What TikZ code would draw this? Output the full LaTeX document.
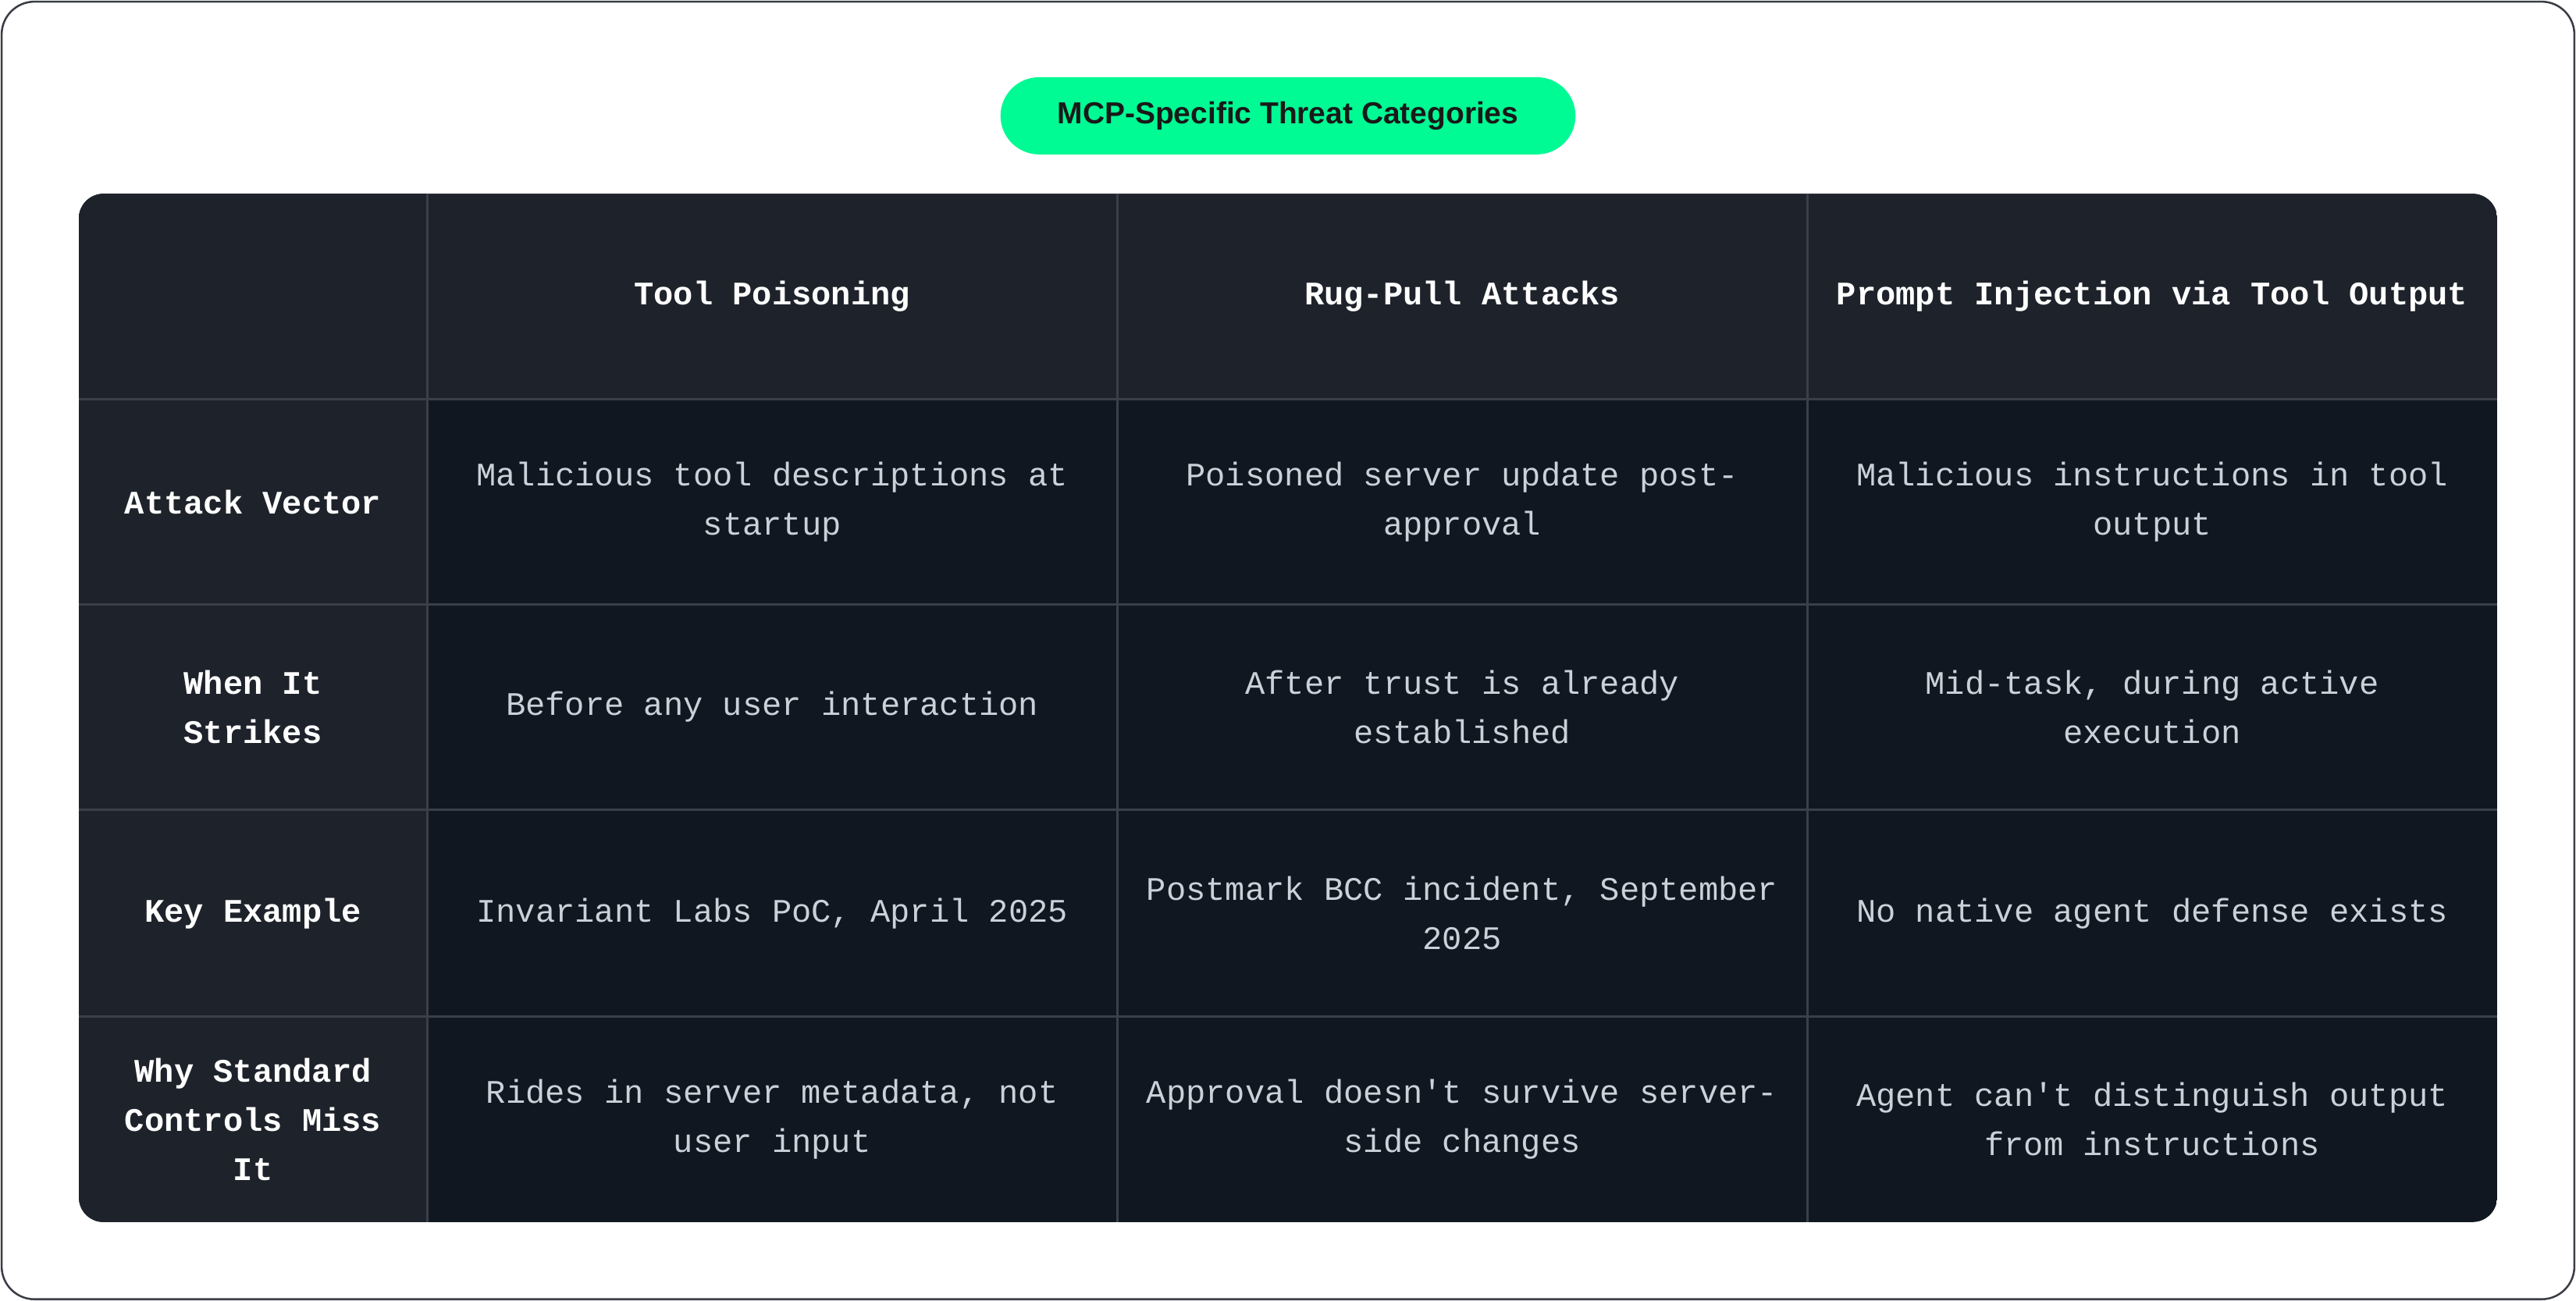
\documentclass[tikz,border=0pt]{standalone}
\usepackage{fontspec}
\setmainfont{Liberation Sans}
\setmonofont{Liberation Mono}
\definecolor{hdr}{HTML}{1E232B}
\definecolor{body}{HTML}{111720}
\definecolor{grid}{HTML}{3A4049}
\definecolor{txt}{HTML}{C9D1D9}
\definecolor{pill}{HTML}{00FA94}
\definecolor{frame}{HTML}{3A3D44}
\begin{document}
\begin{tikzpicture}[x=1pt,y=-1pt,
  hd/.style={font=\ttfamily\bfseries\fontsize{20}{30}\selectfont,text=white,align=center},
  bd/.style={font=\ttfamily\fontsize{20}{30}\selectfont,text=txt,align=center}]
\useasboundingbox (0,0) rectangle (1568,792);
\draw[frame,line width=1.2pt,rounded corners=20pt] (1,1) rectangle (1567,791);
\node[fill=pill,rounded corners=23.5pt,minimum width=350pt,minimum height=47pt,font=\bfseries\fontsize{18.5}{22}\selectfont,text=black!90] (title) at (784,70.5) {MCP-Specific Threat Categories};
\begin{scope}
\clip[rounded corners=15pt] (48,118) rectangle (1520,744);
\fill[body] (48,118) rectangle (1520,744);
\fill[hdr] (48,118) rectangle (1520,243);
\fill[hdr] (48,118) rectangle (260,744);
\foreach \x in {260,680,1100} \draw[grid,line width=1.5pt] (\x,118) -- (\x,744);
\foreach \y in {243,368,493,619} \draw[grid,line width=1.5pt] (48,\y) -- (1520,\y);
\end{scope}
\node[hd] (h1) at (470,180.5) {Tool Poisoning};
\node[hd] (h2) at (890,180.5) {Rug-Pull Attacks};
\node[hd] (h3) at (1310,180.5) {Prompt Injection via Tool Output};
\node[hd] (r1) at (154,305.5) {Attack Vector};
\node[hd] (r2) at (154,430.5) {When It\\Strikes};
\node[hd] (r3) at (154,556) {Key Example};
\node[hd] (r4) at (154,681.5) {Why Standard\\Controls Miss\\It};
\node[bd] (c11) at (470,305.5) {Malicious tool descriptions at\\startup};
\node[bd] (c12) at (890,305.5) {Poisoned server update post-\\approval};
\node[bd] (c13) at (1310,305.5) {Malicious instructions in tool\\output};
\node[bd] (c21) at (470,430.5) {Before any user interaction};
\node[bd] (c22) at (890,430.5) {After trust is already\\established};
\node[bd] (c23) at (1310,430.5) {Mid-task, during active\\execution};
\node[bd] (c31) at (470,556) {Invariant Labs PoC, April 2025};
\node[bd] (c32) at (890,556) {Postmark BCC incident, September\\2025};
\node[bd] (c33) at (1310,556) {No native agent defense exists};
\node[bd] (c41) at (470,681.5) {Rides in server metadata, not\\user input};
\node[bd] (c42) at (890,681.5) {Approval doesn't survive server-\\side changes};
\node[bd] (c43) at (1310,681.5) {Agent can't distinguish output\\from instructions};
\end{tikzpicture}
\end{document}
